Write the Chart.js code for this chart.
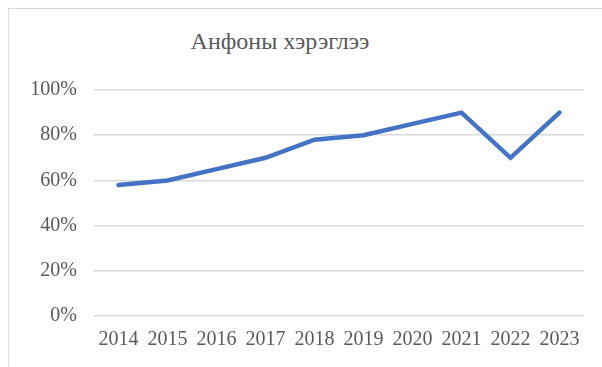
<!DOCTYPE html>
<html>
<head>
<meta charset="utf-8">
<script src="https://cdn.jsdelivr.net/npm/chart.js@4"></script>
<style>
  body { margin: 0; background: #fff; }
  #wrap { position: relative; width: 602px; height: 367px; overflow: hidden; }
  #frame { position: absolute; left: 8px; top: 8px; width: 700px; height: 500px; border: 1.5px solid #d9d9d9; }
  #title { position: absolute; left: 0; width: 560px; top: 28px; text-align: center;
    font-family: "Liberation Serif", "Times New Roman", serif; font-size: 24px; color: #595959; }
  canvas { position: absolute; left: 0; top: 0; }
</style>
</head>
<body>
<div id="wrap">
  <div id="frame"></div>
  <div id="title">Анфоны хэрэглээ</div>
  <canvas id="usageChart" width="602" height="367"></canvas>
</div>
<script>
const years = ["2014", "2015", "2016", "2017", "2018", "2019", "2020", "2021", "2022", "2023"];
const usage = [58, 60, 65, 70, 78, 80, 85, 90, 70, 90];
const yTicks = [0, 20, 40, 60, 80, 100];

const tickFont = { family: "'Liberation Serif', 'Times New Roman', serif", size: 20 };

const ctx = document.getElementById("usageChart").getContext("2d");
const usageChart = new Chart(ctx, {
  type: "line",
  data: {
    labels: years,
    datasets: [{
      data: usage,
      borderColor: "#4472C4",
      borderWidth: 4.5,
      borderCapStyle: "round",
      borderJoinStyle: "miter",
      pointRadius: 0,
      tension: 0,
      fill: false,
    }],
  },
  options: {
    responsive: false,
    animation: false,
    layout: { padding: { top: 90, right: 18, bottom: 0, left: 0 } },
    plugins: {
      legend: { display: false },
      tooltip: { enabled: false },
    },
    scales: {
      x: {
        offset: true,
        grid: { display: false, drawTicks: false },
        border: { display: false },
        ticks: { color: "#595959", font: tickFont, padding: 12, maxRotation: 0, autoSkip: false },
        afterFit: (scale) => { scale.height = 51; },
      },
      y: {
        min: 0,
        max: 100,
        afterBuildTicks: (scale) => { scale.ticks = yTicks.map((v) => ({ value: v })); },
        grid: { color: "#d9d9d9", lineWidth: 1.5, drawTicks: false },
        border: { display: false },
        ticks: { color: "#595959", font: tickFont, padding: 17, callback: (v) => v + "%" },
        afterFit: (scale) => { scale.width = 94; },
      },
    },
  },
});
</script>
</body>
</html>
